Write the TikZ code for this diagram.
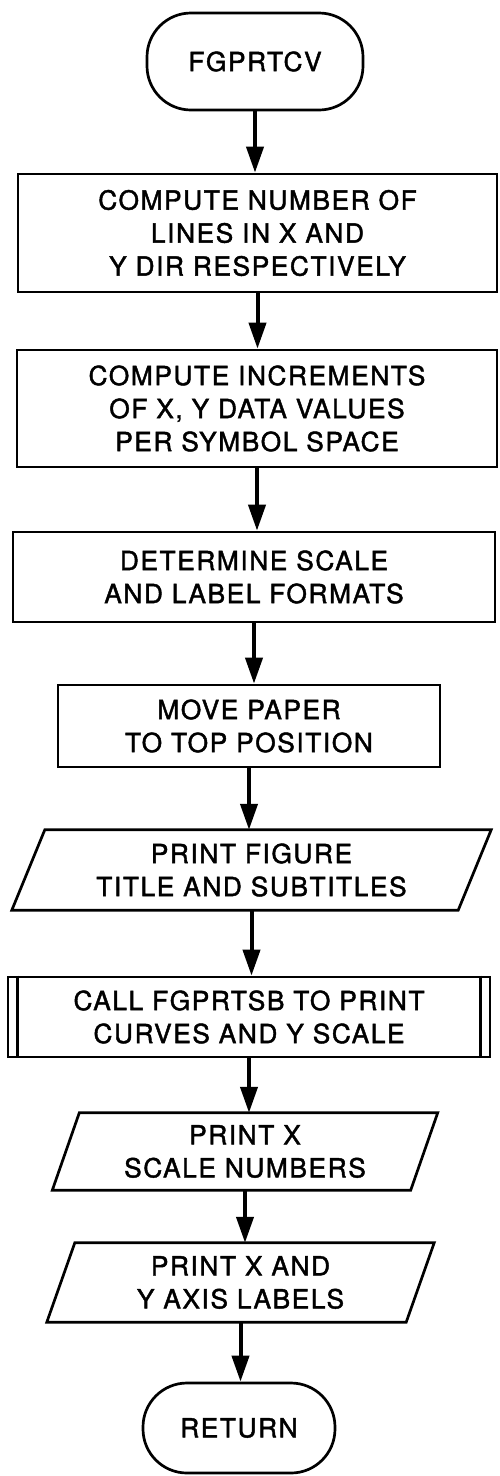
\documentclass[tikz,border=0pt]{standalone}
\usepackage{fontspec}
\setmainfont{TeX Gyre Heros}[LetterSpace=6,FakeBold=1.6]
\usetikzlibrary{arrows.meta}
\begin{document}
\begin{tikzpicture}[x=1pt,y=-1pt,
  txt/.style={font=\fontsize{26.3}{33}\selectfont, align=center, inner sep=0pt},
  box/.style={txt, draw, line width=2.7pt, rectangle},
  term/.style={box, rounded corners=44pt},
  pbox/.style={txt, draw=none, rectangle},
  edge/.style={line width=2.7pt, line join=miter},
  arr/.style={line width=4pt, -{Triangle[length=26pt,width=17pt]}}
]
\useasboundingbox (0,0) rectangle (499,1476);

\node[term, minimum width=216pt, minimum height=97pt] (start) at (255,61.5) {FGPRTCV};
\node[box, minimum width=479pt, minimum height=118pt] (b1) at (257.5,233) {COMPUTE NUMBER OF\\LINES IN X AND\\Y DIR RESPECTIVELY};
\node[box, minimum width=480pt, minimum height=117pt] (b2) at (257,408.5) {COMPUTE INCREMENTS\\OF X, Y DATA VALUES\\PER SYMBOL SPACE};
\node[box, minimum width=482pt, minimum height=90pt] (b3) at (254,577) {DETERMINE SCALE\\AND LABEL FORMATS};
\node[box, minimum width=382pt, minimum height=82pt] (b4) at (249,726) {MOVE PAPER\\TO TOP POSITION};
\node[pbox, minimum width=446pt, minimum height=80pt] (p1) at (251.5,870) {PRINT FIGURE\\TITLE AND SUBTITLES};
\node[box, minimum width=482pt, minimum height=80pt] (sub) at (249,1017) {CALL FGPRTSB TO PRINT\\CURVES AND Y SCALE};
\node[pbox, minimum width=358pt, minimum height=77pt] (p2) at (245,1151.5) {PRINT X\\SCALE NUMBERS};
\node[pbox, minimum width=359pt, minimum height=79pt] (p3) at (240.5,1282.5) {PRINT X AND\\Y AXIS LABELS};
\node[term, minimum width=192pt, minimum height=90pt] (ret) at (239,1428) {RETURN};

% parallelogram outlines
\draw[edge] ([xshift=16.5pt]p1.north west) -- ([xshift=16.5pt]p1.north east) -- ([xshift=-16.5pt]p1.south east) -- ([xshift=-16.5pt]p1.south west) -- cycle;
\draw[edge] ([xshift=13.5pt]p2.north west) -- ([xshift=13.5pt]p2.north east) -- ([xshift=-13.5pt]p2.south east) -- ([xshift=-13.5pt]p2.south west) -- cycle;
\draw[edge] ([xshift=14pt]p3.north west) -- ([xshift=14pt]p3.north east) -- ([xshift=-14pt]p3.south east) -- ([xshift=-14pt]p3.south west) -- cycle;

% subroutine inner bars
\draw[edge] ([xshift=11pt]sub.north west) -- ([xshift=11pt]sub.south west);
\draw[edge] ([xshift=-11pt]sub.north east) -- ([xshift=-11pt]sub.south east);

% connectors
\draw[arr] (start.south) -- (start.south |- b1.north);
\draw[arr] (b1.south) -- (b1.south |- b2.north);
\draw[arr] (b2.south) -- (b2.south |- b3.north);
\draw[arr] (b3.south) -- (b3.south |- b4.north);
\draw[arr] (b4.south) -- (b4.south |- p1.north);
\draw[arr] (p1.south) -- (p1.south |- sub.north);
\draw[arr] (sub.south) -- (sub.south |- p2.north);
\draw[arr] (p2.south) -- (p2.south |- p3.north);
\draw[arr] (p3.south) -- (p3.south |- ret.north);
\end{tikzpicture}
\end{document}
